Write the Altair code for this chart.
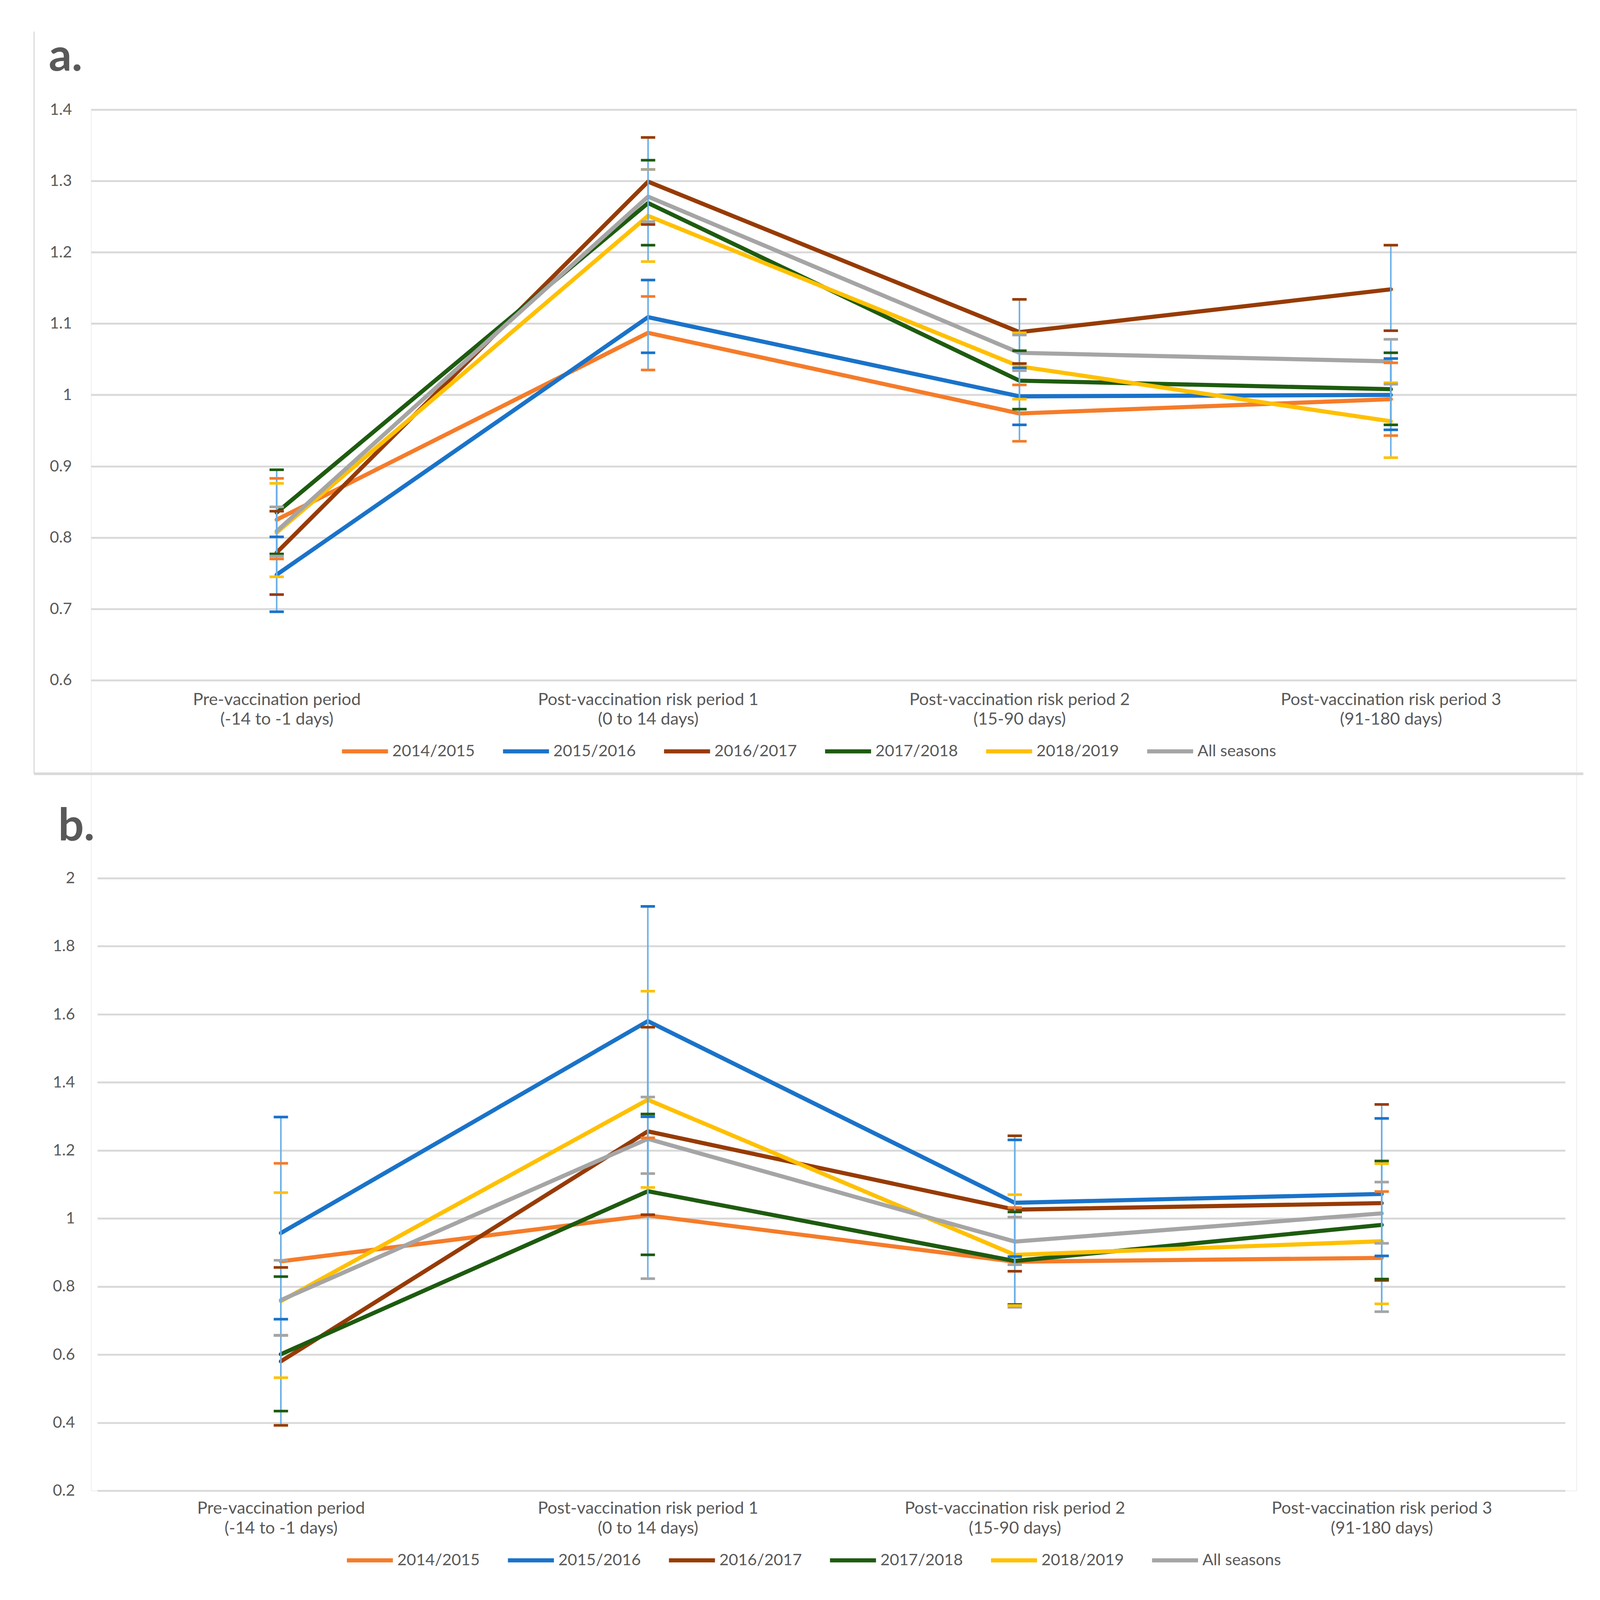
import altair as alt
import pandas as pd

PERIODS = [
    "Pre-vaccination period\n(-14 to -1 days)",
    "Post-vaccination risk period 1\n(0 to 14 days)",
    "Post-vaccination risk period 2\n(15-90 days)",
    "Post-vaccination risk period 3\n(91-180 days)",
]
SEASONS = ["2014/2015", "2015/2016", "2016/2017", "2017/2018", "2018/2019", "All seasons"]
COLORS = ["#F57C2A", "#1A73C9", "#973B04", "#1E5B10", "#FFC000", "#A5A5A5"]

# ---- panel a: estimate, lower and upper limits per period
A_EST = {
    "2014/2015": [0.825, 1.087, 0.974, 0.994],
    "2015/2016": [0.748, 1.109, 0.998, 1.000],
    "2016/2017": [0.779, 1.299, 1.088, 1.148],
    "2017/2018": [0.835, 1.269, 1.020, 1.008],
    "2018/2019": [0.807, 1.251, 1.040, 0.963],
    "All seasons": [0.809, 1.278, 1.059, 1.047],
}
A_LO = {
    "2014/2015": [0.770, 1.035, 0.935, 0.943],
    "2015/2016": [0.696, 1.059, 0.958, 0.951],
    "2016/2017": [0.720, 1.239, 1.044, 1.090],
    "2017/2018": [0.777, 1.210, 0.980, 0.958],
    "2018/2019": [0.745, 1.187, 0.994, 0.912],
    "All seasons": [0.774, 1.243, 1.034, 1.015],
}
A_HI = {
    "2014/2015": [0.883, 1.138, 1.014, 1.045],
    "2015/2016": [0.801, 1.161, 1.038, 1.051],
    "2016/2017": [0.837, 1.361, 1.134, 1.210],
    "2017/2018": [0.895, 1.329, 1.062, 1.059],
    "2018/2019": [0.876, 1.316, 1.087, 1.017],
    "All seasons": [0.843, 1.316, 1.084, 1.078],
}

# ---- panel b
B_EST = {
    "2014/2015": [0.874, 1.009, 0.873, 0.884],
    "2015/2016": [0.957, 1.580, 1.046, 1.072],
    "2016/2017": [0.580, 1.256, 1.026, 1.045],
    "2017/2018": [0.601, 1.080, 0.875, 0.981],
    "2018/2019": [0.757, 1.349, 0.893, 0.933],
    "All seasons": [0.760, 1.234, 0.932, 1.015],
}
B_LO = {
    "2014/2015": [0.657, 0.823, 0.739, 0.726],
    "2015/2016": [0.704, 1.299, 0.888, 0.890],
    "2016/2017": [0.392, 1.011, 0.845, 0.818],
    "2017/2018": [0.434, 0.893, 0.747, 0.822],
    "2018/2019": [0.532, 1.091, 0.744, 0.749],
    "All seasons": [0.656, 1.132, 0.864, 0.927],
}
B_HI = {
    "2014/2015": [1.162, 1.237, 1.032, 1.079],
    "2015/2016": [1.298, 1.917, 1.231, 1.294],
    "2016/2017": [0.856, 1.562, 1.243, 1.335],
    "2017/2018": [0.829, 1.307, 1.019, 1.169],
    "2018/2019": [1.076, 1.668, 1.070, 1.161],
    "All seasons": [0.877, 1.357, 1.004, 1.107],
}

A_TICKS = [0.6, 0.7, 0.8, 0.9, 1.0, 1.1, 1.2, 1.3, 1.4]
B_TICKS = [0.2, 0.4, 0.6, 0.8, 1.0, 1.2, 1.4, 1.6, 1.8, 2.0]

TEXT = "#595959"
GRID = "#D9D9D9"
ERR = "#6AAFE6"
FONT = "Lato"

# layout of the single view (pixels inside the view)
W = 3939
H = 3662
A_RANGE_Y = [1513, 0]
B_RANGE_Y = [3662, 2038]
A_RANGE_X = [0, 3939]
B_RANGE_X = [17, 3909]


def frames(est, lo, hi, low_cap_override=None):
    rows, caps = [], []
    for si, s in enumerate(SEASONS):
        for pi, p in enumerate(PERIODS):
            rows.append({"season": s, "period": p, "value": est[s][pi],
                         "lo": lo[s][pi], "hi": hi[s][pi]})
            lc = COLORS[si]
            if low_cap_override and s in low_cap_override:
                lc = low_cap_override[s]
            caps.append({"season": s, "period": p, "cap": lo[s][pi], "capcolor": lc})
            caps.append({"season": s, "period": p, "cap": hi[s][pi], "capcolor": COLORS[si]})
    return pd.DataFrame(rows), pd.DataFrame(caps)


def panel(est, lo, hi, ticks, xrange, yrange, ylabpad, xlabpad, xoffset,
          legx, legy, low_cap_override=None):
    df, caps = frames(est, lo, hi, low_cap_override)
    xscale = alt.Scale(type="point", padding=0.5, domain=PERIODS, range=xrange)
    xaxis = alt.Axis(title=None, orient="bottom", offset=xoffset,
                     labelExpr="split(datum.label, '\\n')",
                     labelAngle=0, labelFontSize=45, labelLineHeight=52,
                     labelPadding=xlabpad, ticks=False, domain=False,
                     grid=False, labelColor=TEXT, labelFont=FONT,
                     labelLimit=2000, labelBaseline="top")
    yaxis = alt.Axis(title=None, orient="left", values=ticks, format=".1~f", grid=True,
                     gridColor=GRID, gridWidth=5, ticks=False, domain=False,
                     labelFontSize=42, labelPadding=ylabpad, labelColor=TEXT,
                     labelFont=FONT)
    yscale = alt.Scale(domain=[ticks[0], ticks[-1]], nice=False, zero=False, range=yrange)
    xenc = alt.X("period:N", sort=PERIODS, scale=xscale, axis=xaxis)

    lines = alt.Chart(df).mark_line(strokeWidth=11, strokeJoin="round", strokeCap="round").encode(
        x=xenc,
        y=alt.Y("value:Q", scale=yscale, axis=yaxis),
        color=alt.Color("season:N", scale=alt.Scale(domain=SEASONS, range=COLORS),
                        legend=alt.Legend(title=None, orient="none", legendX=legx, legendY=legy,
                                          direction="horizontal", columns=6,
                                          symbolType="stroke", symbolSize=14884,
                                          symbolStrokeWidth=11, labelFontSize=43,
                                          labelFont=FONT, labelColor=TEXT,
                                          columnPadding=52, labelOffset=6,
                                          labelLimit=2000)),
        order=alt.Order("season:N"),
    )
    rules = alt.Chart(df).mark_rule(color=ERR, strokeWidth=4).encode(
        x=xenc, y=alt.Y("lo:Q", scale=yscale, axis=yaxis), y2="hi:Q")
    capmarks = alt.Chart(caps).mark_tick(size=38, thickness=7, opacity=1).encode(
        x=xenc, y=alt.Y("cap:Q", scale=yscale, axis=yaxis),
        color=alt.Color("capcolor:N", scale=None))
    return alt.layer(lines, rules, capmarks)


layer_a = panel(A_EST, A_LO, A_HI, A_TICKS, A_RANGE_X, A_RANGE_Y, 51, 29,
                -(H - A_RANGE_Y[0]), 660, 1635)
layer_b = panel(B_EST, B_LO, B_HI, B_TICKS, B_RANGE_X, B_RANGE_Y, 43, 25,
                0, 673, 3780, low_cap_override={"2014/2015": "#A5A5A5"})

one = pd.DataFrame({"k": [0]})


def label(t, x, y):
    return alt.Chart(pd.DataFrame({"t": [t]})).mark_text(
        align="left", baseline="alphabetic", fontSize=120, fontWeight="bold",
        font=FONT, color=TEXT).encode(x=alt.value(x), y=alt.value(y), text="t:N")


a_border_left = alt.Chart(one).mark_rule(color=GRID, strokeWidth=3).encode(
    x=alt.value(-151), y=alt.value(-207), y2=alt.value(1761))
a_border_bottom = alt.Chart(one).mark_rule(color=GRID, strokeWidth=7).encode(
    x=alt.value(-151), x2=alt.value(3957), y=alt.value(1761))

chart = alt.layer(
    a_border_left, a_border_bottom, layer_a, layer_b,
    label("a.", -112, -103), label("b.", -87, 1937),
).resolve_scale(
    x="independent", y="independent", color="independent"
).resolve_axis(
    x="independent", y="independent"
).resolve_legend(
    color="independent"
).properties(
    width=W, height=H,
    autosize=alt.AutoSizeParams(type="none"),
    padding={"left": 233, "top": 209, "right": 54, "bottom": 229},
    background="white",
).configure_view(stroke=None).configure(font=FONT)

chart.save("out.html", embed_options={"renderer": "svg", "actions": False})
